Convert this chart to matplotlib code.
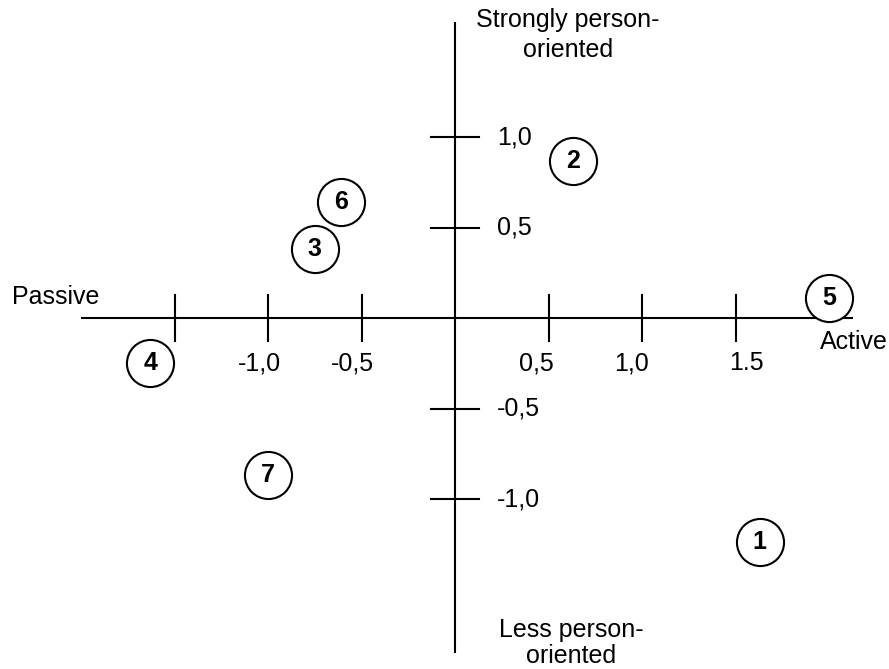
import matplotlib
matplotlib.use("Agg")
import matplotlib.pyplot as plt

plt.rcParams['font.family'] = ['Liberation Sans', 'DejaVu Sans']

# Data
labels = ["1", "2", "3", "4", "5", "6", "7"]
x_vals = [1.63, 0.63, -0.75, -1.63, 2.00, -0.61, -1.00]
y_vals = [-1.24, 0.87, 0.38, -0.25, 0.11, 0.64, -0.87]

x_ticks = [-1.5, -1.0, -0.5, 0.5, 1.0, 1.5]
x_tick_labels = ["", "-1,0", "-0,5", "0,5", "1,0", "1.5"]
y_ticks = [1.0, 0.5, -0.5, -1.0]
y_tick_labels = ["1,0", "0,5", "-0,5", "-1,0"]

W, H = 889, 669
fig = plt.figure(figsize=(W / 100, H / 100), dpi=100)
ax = fig.add_axes([0, 0, 1, 1])
ax.set_axis_off()

# pixel mapping: x_pix = 455 + 187*x ; y_pix(from top) = 318 - 181*y
sx, ox = 187.0, 455.0
sy, oy = 181.0, 318.0
ax.set_xlim(-ox / sx, (W - ox) / sx)
ax.set_ylim((oy - H) / sy, oy / sy)

lw = 1.5
# axes lines
ax.plot([(81 - ox) / sx, (853 - ox) / sx], [0, 0], color='black', lw=lw, solid_capstyle='butt')
ax.plot([0, 0], [(oy - 653) / sy, (oy - 22) / sy], color='black', lw=lw, solid_capstyle='butt')

tx = 23 / sy
for t in x_ticks:
    ax.plot([t, t], [-tx, tx], color='black', lw=lw)
ty = 24 / sx
for t in y_ticks:
    ax.plot([-ty, ty], [t, t], color='black', lw=lw)

fs = 18
x_off = {-1.5: 0, -1.0: -9, -0.5: -9, 0.5: -12, 1.0: -10, 1.5: 11}
for t, lab in zip(x_ticks, x_tick_labels):
    if lab:
        ax.text(t + x_off[t] / sx, (oy - 363) / sy, lab, ha='center', va='center', fontsize=fs)
for t, lab in zip(y_ticks, y_tick_labels):
    ax.text((497 - ox) / sx, t, lab, ha='left', va='center', fontsize=fs)

# axis titles
ax.text((568 - ox) / sx, (oy - 8) / sy, "Strongly person-\noriented", ha='center', va='top',
        fontsize=fs, linespacing=1.3)
ax.text((571 - ox) / sx, (oy - 618) / sy, "Less person-\noriented", ha='center', va='top',
        fontsize=fs, linespacing=1.1)
ax.text((12 - ox) / sx, (oy - 297) / sy, "Passive", ha='left', va='center', fontsize=fs)
ax.text((888 - ox) / sx, (oy - 342) / sy, "Active", ha='right', va='center', fontsize=fs)

# circles
ax.scatter(x_vals, y_vals, s=1150, facecolors='white', edgecolors='black', linewidths=1.5, zorder=3)
for xv, yv, lab in zip(x_vals, y_vals, labels):
    ax.text(xv, yv, lab, ha='center', va='center', fontsize=fs, fontweight='bold', zorder=4)

fig.savefig("out.png", dpi=100, facecolor='white')
